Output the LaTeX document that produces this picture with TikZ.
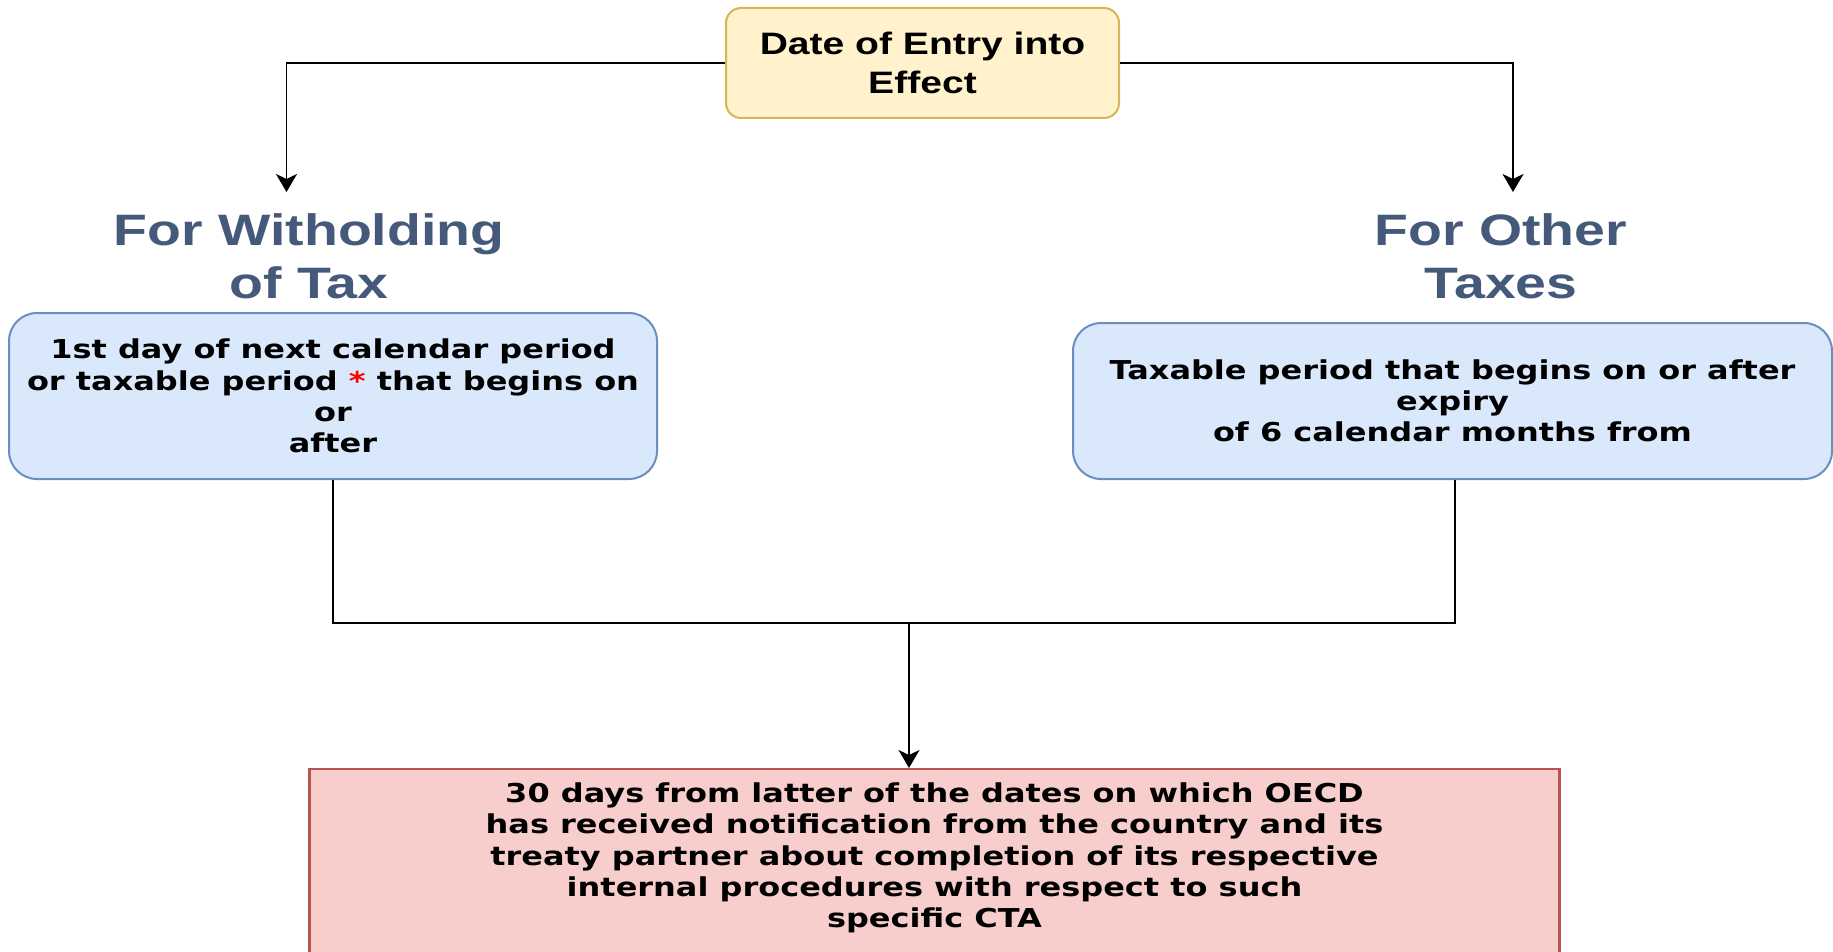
\documentclass[tikz,border=0pt]{standalone}
\usepackage{fontspec}
\usetikzlibrary{arrows.meta}
\newfontfamily\headfont[FakeStretch=1.26]{Liberation Sans}
\newfontfamily\boxfont[FakeStretch=1.23]{DejaVu Sans}
\definecolor{yfill}{HTML}{FFF2CC}
\definecolor{ydraw}{HTML}{D6B656}
\definecolor{bfill}{HTML}{DAE8FC}
\definecolor{bdraw}{HTML}{6C8EBF}
\definecolor{rfill}{HTML}{F8CECC}
\definecolor{rdraw}{HTML}{B85450}
\definecolor{headcol}{HTML}{455A7B}
\begin{document}
\begin{tikzpicture}[x=1pt,y=-1pt,
  conn/.style={line width=1.9pt, black},
  arr/.style={conn, -{Stealth[length=18pt,width=21pt,inset=5pt]}},
  topbox/.style={draw=ydraw, fill=yfill, line width=2pt, rounded corners=15pt,
     align=center, inner sep=0pt, font=\headfont\bfseries\fontsize{31}{38.5}\selectfont},
  bluebox/.style={draw=bdraw, fill=bfill, line width=2pt, rounded corners=28pt,
     align=center, inner sep=0pt, font=\boxfont\bfseries\fontsize{26}{31.3}\selectfont},
  redbox/.style={draw=rdraw, fill=rfill, line width=2.4pt, inner sep=0pt},
  boxtext/.style={align=center, inner sep=0pt, font=\boxfont\bfseries\fontsize{26}{31.3}\selectfont},
  heading/.style={align=center, inner sep=0pt, text=headcol,
     font=\headfont\bfseries\fontsize{44}{53}\selectfont}
]
\useasboundingbox (0,0) rectangle (1833,952);
\fill[white] (0,0) rectangle (1833,952);

\node[topbox, minimum width=393, minimum height=110] (top) at (922.5,63)
  {Date of Entry into\\Effect};

\node[heading] (lhead) at (309,256) {For Witholding\\of Tax};
\node[heading] (rhead) at (1501,256) {For Other\\Taxes};

\node[bluebox, minimum width=648, minimum height=166] (lbox) at (333,396)
  {1st day of next calendar period\\or taxable period {\color{red}*} that begins on\\or\\after};
\node[bluebox, minimum width=759, minimum height=156] (rbox) at (1452.5,401)
  {Taxable period that begins on or after\\expiry\\of 6 calendar months from};

\node[redbox, minimum width=1250, minimum height=220, anchor=north] (final) at (934.5,768) {};
\node[boxtext] (finaltext) at (934.5,858)
  {30 days from latter of the dates on which OECD\\has received notification from the country and its\\treaty partner about completion of its respective\\internal procedures with respect to such\\specific CTA};

\coordinate (lt) at (286.5,192);
\coordinate (rt) at (1513,192);
\coordinate (j) at (909,623);
\coordinate (rdrop) at ([xshift=2.5pt]rbox.south);

\draw[arr] (top.west) -| (lt);
\draw[arr] (top.east) -| (rt);
\draw[conn] (lbox.south) |- (j) -| (rdrop);
\draw[arr] (j) -- (j |- final.north);
\end{tikzpicture}
\end{document}
